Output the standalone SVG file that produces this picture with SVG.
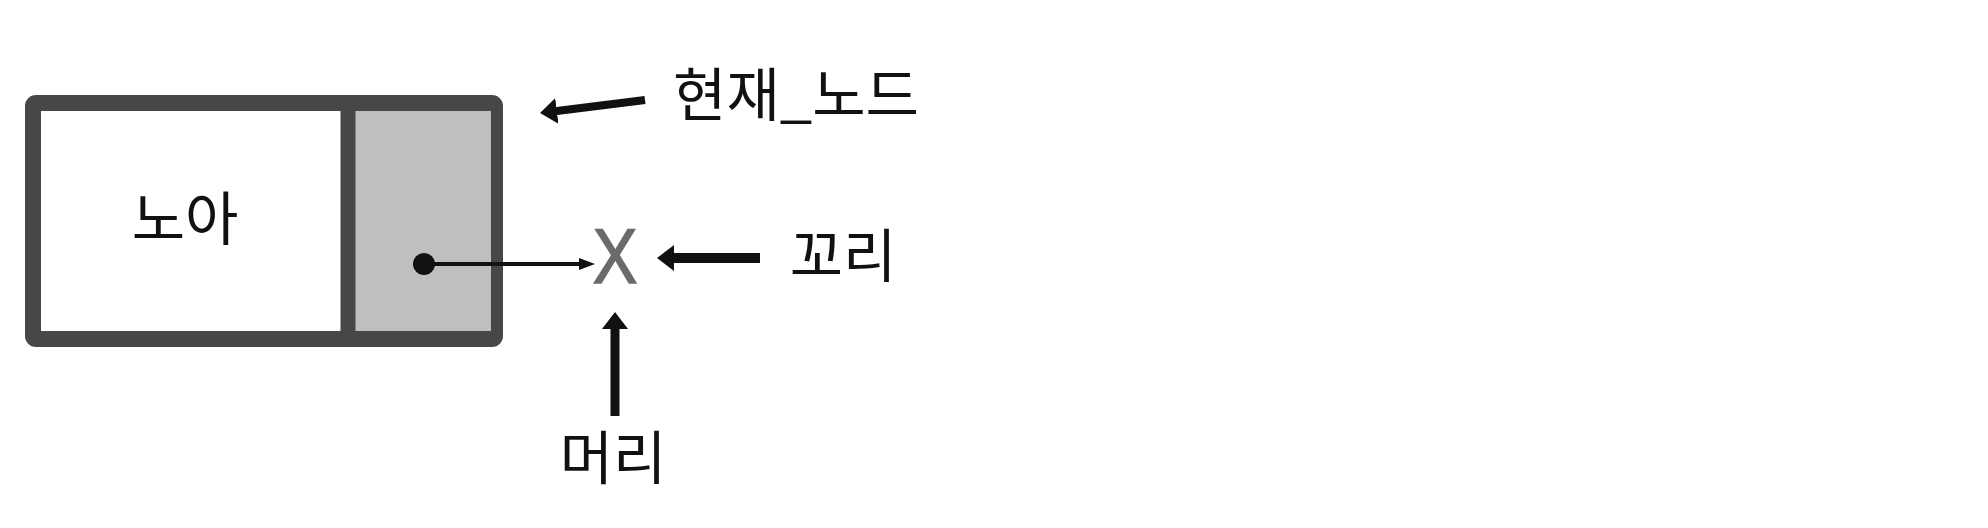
<svg xmlns="http://www.w3.org/2000/svg" width="1988" height="528" viewBox="0 0 1988 528">
<style>
.lbl{font-family:"Noto Sans CJK KR","Noto Sans",sans-serif;font-size:58px;fill:#111;text-anchor:middle}
.arrow{stroke:#111;fill:none}
</style>
<defs>
<marker id="bighead" viewBox="0 0 17 26" refX="2" refY="13" markerWidth="17" markerHeight="26" markerUnits="userSpaceOnUse" orient="auto">
<path d="M0,0 L17,13 L0,26 z" fill="#111"/>
</marker>
<marker id="smallhead" viewBox="0 0 16 12" refX="2" refY="6" markerWidth="16" markerHeight="12" markerUnits="userSpaceOnUse" orient="auto">
<path d="M0,0 L16,6 L0,12 z" fill="#111"/>
</marker>
</defs>
<rect width="1988" height="528" fill="#fff"/>
<g id="node-noah">
<rect x="33" y="103" width="462" height="236" rx="3" fill="#fff" stroke="#474747" stroke-width="16"/>
<rect x="355" y="111" width="136" height="220" fill="#bfbfbf"/>
<line x1="348" y1="103" x2="348" y2="339" stroke="#474747" stroke-width="15"/>
<text class="lbl" x="185" y="240">노아</text>
</g>
<g id="null-x">
<text transform="translate(615,283) scale(0.86,1)" font-family="Liberation Sans,Arial,sans-serif" font-size="78" fill="#6b6b6b" stroke="#6b6b6b" stroke-width="1.5" text-anchor="middle">X</text>
</g>
<g id="label-current">
<text class="lbl" x="796" y="116">현재_노드</text>
</g>
<g id="label-tail">
<text class="lbl" x="843" y="277">꼬리</text>
</g>
<g id="label-head">
<text class="lbl" x="613" y="479">머리</text>
</g>
<g id="connectors">
<circle cx="424" cy="264" r="11" fill="#111"/>
<line class="arrow" x1="424" y1="264" x2="581" y2="264" stroke-width="4" marker-end="url(#smallhead)"/>
<line class="arrow" x1="645" y1="100" x2="554.9" y2="111.2" stroke-width="8" marker-end="url(#bighead)"/>
<line class="arrow" x1="760" y1="258" x2="672" y2="258" stroke-width="10" marker-end="url(#bighead)"/>
<line class="arrow" x1="615" y1="416" x2="615" y2="327" stroke-width="9" marker-end="url(#bighead)"/>
</g>
</svg>
